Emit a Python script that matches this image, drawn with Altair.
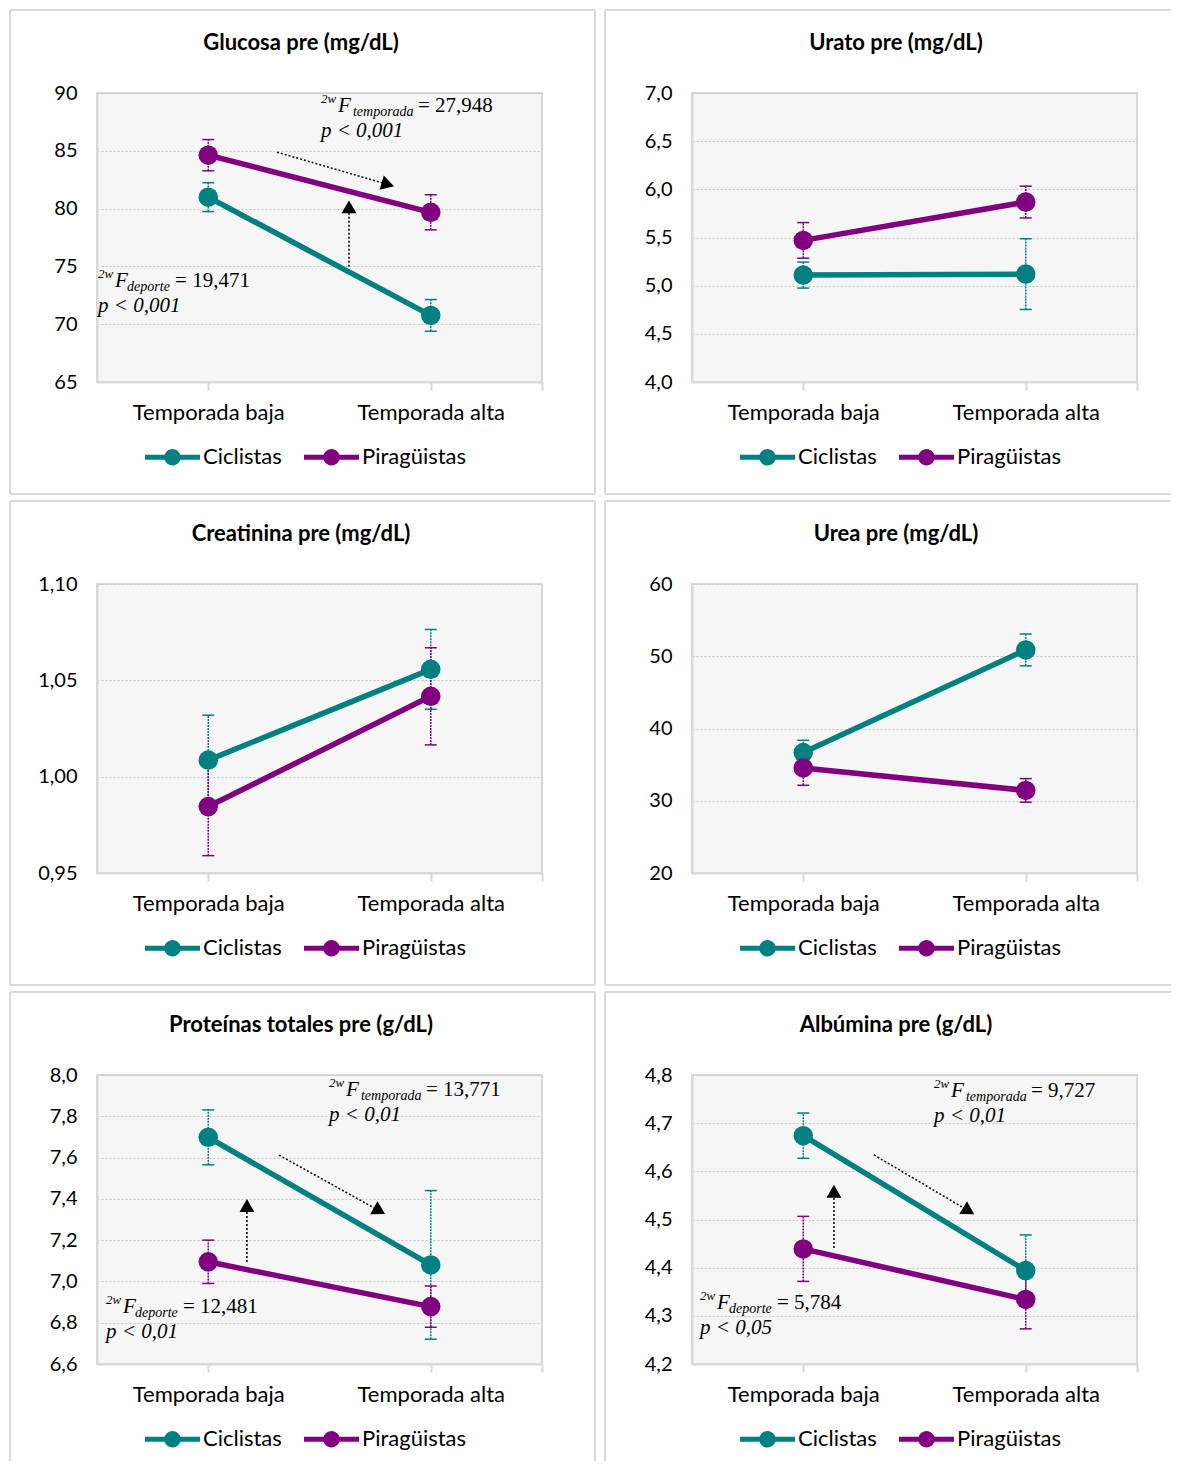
import math
import altair as alt
import pandas as pd

# ---------------- data ----------------
temporadas = ["Temporada baja", "Temporada alta"]
grupos = ["Ciclistas", "Piragüistas"]
colores = ["#008080", "#800080"]

titulos = ["Glucosa pre (mg/dL)", "Urato pre  (mg/dL)", "Creatinina pre  (mg/dL)",
           "Urea pre (mg/dL)", "Proteínas totales pre  (g/dL)", "Albúmina pre (g/dL)"]

y_min = [65, 4.0, 0.95, 20, 6.6, 4.2]
y_max = [90, 7.0, 1.10, 60, 8.0, 4.8]
y_ticks = [
    [65, 70, 75, 80, 85, 90],
    [4.0, 4.5, 5.0, 5.5, 6.0, 6.5, 7.0],
    [0.95, 1.00, 1.05, 1.10],
    [20, 30, 40, 50, 60],
    [6.6, 6.8, 7.0, 7.2, 7.4, 7.6, 7.8, 8.0],
    [4.2, 4.3, 4.4, 4.5, 4.6, 4.7, 4.8],
]
y_decimales = [0, 1, 2, 0, 1, 1]

ciclistas_media = [[80.99, 70.76], [5.11, 5.12], [1.0086, 1.0557],
                   [36.67, 50.88], [7.698, 7.080], [4.674, 4.394]]
ciclistas_ee = [[1.25, 1.37], [0.135, 0.367], [0.0233, 0.0207],
                [1.7, 2.2], [0.133, 0.36], [0.047, 0.074]]
piraguistas_media = [[84.62, 79.68], [5.47, 5.868], [0.9845, 1.0417],
                     [34.54, 31.43], [7.095, 6.878], [4.439, 4.334]]
piraguistas_ee = [[1.35, 1.52], [0.185, 0.165], [0.0255, 0.0252],
                  [2.4, 1.63], [0.105, 0.10], [0.0675, 0.061]]

# statistical annotations (panels 0, 4, 5)
anot_panel = [0, 4, 5]
F_temporada = ["27,948", "13,771", "9,727"]
p_temporada = ["p < 0,001", "p < 0,01", "p < 0,01"]
F_deporte = ["19,471", "12,481", "5,784"]
p_deporte = ["p < 0,001", "p < 0,01", "p < 0,05"]

# annotation anchors (x on 0-4 category axis, y in panel units)
temp_pos = [(2.013, 88.35), (2.085, 7.898), (2.175, 4.754)]
dep_pos = [(0.01, 73.25), (0.081, 6.847), (0.072, 4.314)]
flecha_temp = [((1.618, 84.88), (2.67, 81.93)),
               ((1.636, 7.612), (2.589, 7.327)),
               ((1.636, 4.634), (2.537, 4.511))]
flecha_dep = [((2.265, 74.98), (2.265, 80.71)),
              ((1.348, 7.094), (1.348, 7.399)),
              ((1.276, 4.441), (1.276, 4.572))]

# ---------------- layout / style ----------------
PW, PH = 445, 289
XS = PW / 4.0
GRAY = "#d9d9d9"
LEG_PATH = ("M-1,-0.09L1,-0.09L1,0.09L-1,0.09Z "
            "M0.3,0A0.3,0.3,0,1,1,-0.3,0A0.3,0.3,0,1,1,0.3,0Z")
HEAD = 220


def enc_x(field, i):
    return alt.X(f"{field}:Q", scale=alt.Scale(domain=[0, 4], nice=False, zero=False),
                 axis=alt.Axis(values=[1, 3, 4],
                               labelExpr=(f"datum.value == 1 ? '{temporadas[0]}' : "
                                          f"(datum.value == 3 ? '{temporadas[1]}' : '')"),
                               title=None, grid=False, domainColor=GRAY, domainWidth=2,
                               tickColor=GRAY, tickWidth=2, tickSize=8, labelFont="Lato",
                               labelFontSize=22, labelColor="black", labelPadding=12,
                               labelFlush=False))


def enc_y(field, i):
    dec = y_decimales[i]
    return alt.Y(f"{field}:Q", scale=alt.Scale(domain=[y_min[i], y_max[i]], nice=False, zero=False),
                 axis=alt.Axis(values=y_ticks[i],
                               labelExpr=f"replace(format(datum.value, '.{dec}f'), '.', ',')",
                               title=None, grid=True, gridColor="#c4c4c4", gridDash=[2, 2],
                               gridWidth=1, domainColor=GRAY, domainWidth=2, ticks=False,
                               labelFont="Lato", labelFontSize=20, labelColor="black",
                               labelPadding=20))


def annotation_layers(i, k):
    pyu = PH / (y_max[i] - y_min[i])
    layers = []
    serif = "Liberation Serif"
    for pos, fval, pval, sub, eqdx, subdx in [
        (temp_pos[k], F_temporada[k], p_temporada[k], "temporada", 97, 32),
        (dep_pos[k], F_deporte[k], p_deporte[k], "deporte", 77, 29),
    ]:
        d = pd.DataFrame({"pos": [pos[0]], "media": [pos[1]]})
        base = alt.Chart(d).encode(x=enc_x("pos", i), y=enc_y("media", i))
        common = dict(font=serif, align="left", baseline="alphabetic", color="black")
        layers += [
            base.mark_text(fontSize=13, fontStyle="italic", dx=0, dy=-9, **common).encode(text=alt.value("2w")),
            base.mark_text(fontSize=21, fontStyle="italic", dx=17, **common).encode(text=alt.value("F")),
            base.mark_text(fontSize=14, fontStyle="italic", dx=subdx, dy=4, **common).encode(text=alt.value(sub)),
            base.mark_text(fontSize=21, dx=eqdx, **common).encode(text=alt.value("= " + fval)),
            base.mark_text(fontSize=21, fontStyle="italic", dx=0, dy=25, **common).encode(text=alt.value(pval)),
        ]
    rows = []
    back = 0.866 * math.sqrt(HEAD) / 2
    for (x1, y1), (x2, y2) in [flecha_temp[k], flecha_dep[k]]:
        dxp = (x2 - x1) * XS
        dyp = -(y2 - y1) * pyu
        L = math.hypot(dxp, dyp)
        ux, uy = dxp / L, dyp / L
        cx = x2 - back * ux / XS
        cy = y2 + back * uy / pyu
        ang = math.degrees(math.atan2(ux, -uy)) % 360
        rows.append(dict(pos=x1, media=y1, pos2=cx, media2=cy, ang=ang))
    ad = pd.DataFrame(rows)
    layers.append(alt.Chart(ad).mark_rule(color="black", strokeWidth=1.5, strokeDash=[2, 2]).encode(
        x=enc_x("pos", i), y=enc_y("media", i), x2="pos2:Q", y2="media2:Q"))
    layers.append(alt.Chart(ad).mark_point(shape="triangle-up", filled=True, size=HEAD, color="black",
                                           opacity=1, strokeWidth=0).encode(
        x=enc_x("pos2", i), y=enc_y("media2", i), angle=alt.Angle("ang:Q", scale=None)))
    return layers


def frame_layers(row, col):
    one = pd.DataFrame({"a": [0]})
    bottom = 401 if row < 2 else 386
    right = 498 if col == 0 else 479
    m = alt.Chart(one).mark_rule(color=GRAY, strokeWidth=2)
    layers = [
        m.encode(x=alt.value(-87), y=alt.value(-83), y2=alt.value(bottom)),
        m.encode(y=alt.value(-83), x=alt.value(-87), x2=alt.value(right)),
    ]
    if col == 0:
        layers.append(m.encode(x=alt.value(498), y=alt.value(-83), y2=alt.value(bottom)))
    if row < 2:
        layers.append(m.encode(y=alt.value(401), x=alt.value(-87), x2=alt.value(right)))
    return layers


def make_panel(i, row, col):
    recs = []
    series = [(ciclistas_media[i], ciclistas_ee[i]), (piraguistas_media[i], piraguistas_ee[i])]
    for g, (med, ee) in enumerate(series):
        for t, tname in enumerate(temporadas):
            recs.append(dict(grupo=grupos[g], temporada=tname, pos=1 + 2 * t,
                             media=med[t], lo=med[t] - ee[t], hi=med[t] + ee[t]))
    df = pd.DataFrame(recs)

    layers = []
    for g, gname in enumerate(grupos):
        sub = alt.Chart(df[df["grupo"] == gname])
        c = colores[g]
        layers += [
            sub.mark_rule(color=c, strokeWidth=1.5, strokeDash=[2, 1]).encode(
                x=enc_x("pos", i), y=enc_y("lo", i), y2="hi:Q"),
            sub.mark_tick(color=c, orient="horizontal", size=12, thickness=1.5, opacity=1).encode(
                x=enc_x("pos", i), y=enc_y("lo", i)),
            sub.mark_tick(color=c, orient="horizontal", size=12, thickness=1.5, opacity=1).encode(
                x=enc_x("pos", i), y=enc_y("hi", i)),
            sub.mark_line(color=c, strokeWidth=5.5).encode(
                x=enc_x("pos", i), y=enc_y("media", i), order="pos:Q"),
        ]

    legend = alt.Legend(orient="none", legendX=48, legendY=336.5, direction="horizontal",
                        title=None, symbolType=LEG_PATH, symbolSize=3025, symbolStrokeWidth=0,
                        symbolOpacity=1, labelFont="Lato", labelFontSize=22, labelColor="black",
                        labelOffset=3, columnPadding=22, padding=0, labelLimit=300)
    pts = alt.Chart(df).mark_circle(size=380, opacity=1).encode(
        x=enc_x("pos", i), y=enc_y("media", i),
        color=alt.Color("grupo:N", scale=alt.Scale(domain=grupos, range=colores), legend=legend))
    layers.append(pts)

    if i in anot_panel:
        layers += annotation_layers(i, anot_panel.index(i))

    title = alt.Chart(pd.DataFrame({"t": [titulos[i]]})).mark_text(
        font="Lato", fontSize=22, fontWeight="bold", align="center", baseline="middle",
        color="black").encode(x=alt.value(204), y=alt.value(-50), text="t:N")
    layers += [title] + frame_layers(row, col)
    return alt.layer(*layers).properties(width=PW, height=PH)


panels = [make_panel(i, i // 2, i % 2) for i in range(6)]

chart = alt.concat(*panels, columns=2, spacing={"row": 202, "column": 150}, bounds="flush").resolve_scale(
    color="independent", x="independent", y="independent").resolve_legend(
    color="independent").properties(padding=0, background="white").configure_view(
    stroke=GRAY, strokeWidth=2, fill="#f6f6f6")

chart.save("out.html", embed_options={"renderer": "svg", "actions": False})
